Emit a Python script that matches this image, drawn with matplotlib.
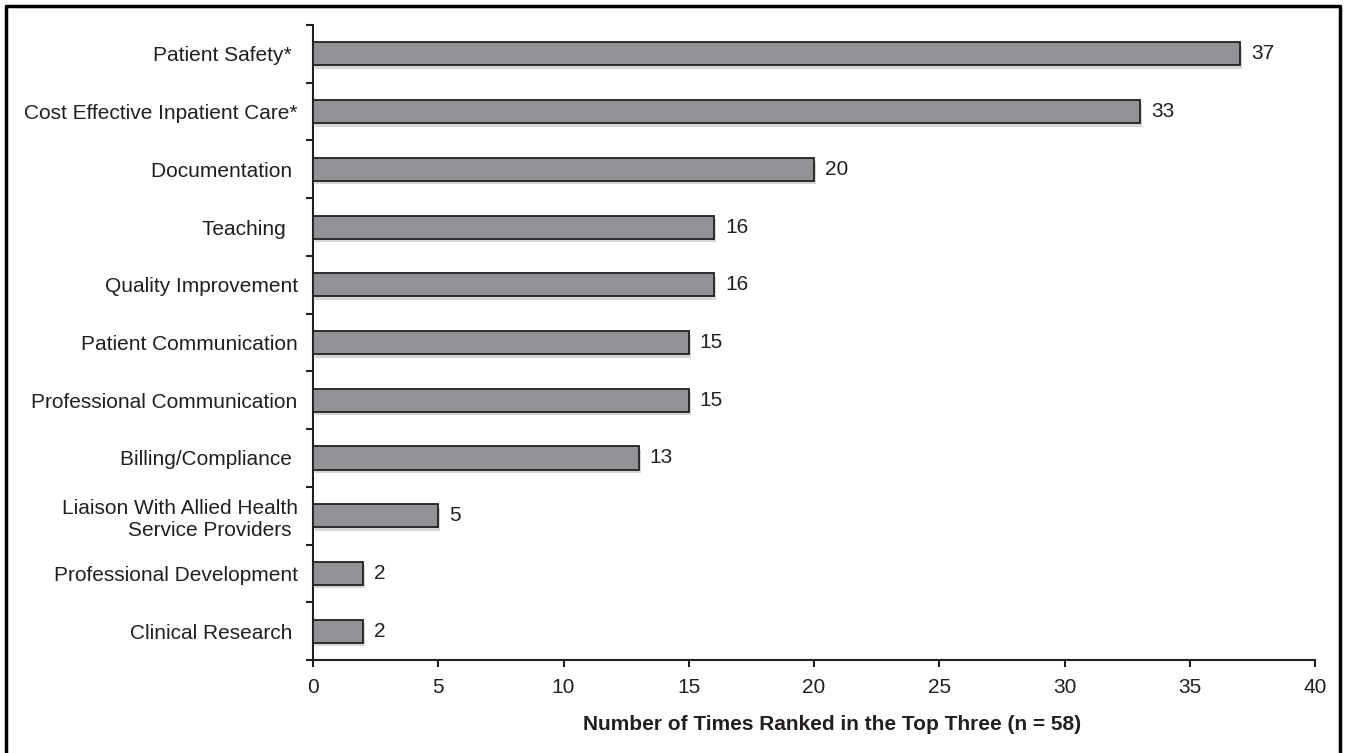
import matplotlib
matplotlib.use("Agg")
import matplotlib.pyplot as plt
import matplotlib.patheffects as pe
from matplotlib.lines import Line2D

categories = [
    "Patient Safety* ",
    "Cost Effective Inpatient Care*",
    "Documentation ",
    "Teaching  ",
    "Quality Improvement",
    "Patient Communication",
    "Professional Communication",
    "Billing/Compliance ",
    "Liaison With Allied Health\nService Providers ",
    "Professional Development",
    "Clinical Research ",
]
values = [37, 33, 20, 16, 16, 15, 15, 13, 5, 2, 2]
xticks = [0, 5, 10, 15, 20, 25, 30, 35, 40]
xlabel = "Number of Times Ranked in the Top Three (n = 58)"

plt.rcParams['font.family'] = ['Liberation Sans', 'DejaVu Sans']
dark = "#231f20"
fs = 15

fig = plt.figure(figsize=(13.45, 7.53), dpi=100)
ax = fig.add_axes([313/1345, 1-660/753, (1315-313)/1345, (660-25)/753])

ypos = list(range(len(categories)))
bars = ax.barh(ypos, values, height=0.4, color="#929296", edgecolor=dark,
               linewidth=1.3, zorder=3)
for b in bars:
    b.set_path_effects([pe.SimplePatchShadow(offset=(1.5, -2.5), shadow_rgbFace="#bbbbbb", alpha=0.6),
                        pe.Normal()])

for y, v in zip(ypos, values):
    ax.annotate(str(v), (v, y), xytext=(8, 0), textcoords="offset points",
                va="center", ha="left", fontsize=fs, color=dark)

ax.set_xlim(0, 40)
ax.set_ylim(len(categories)-0.5, -0.5)
ax.set_xticks(xticks)
ax.set_xticklabels([str(t) for t in xticks], fontsize=fs, color=dark)
ax.set_yticks(ypos)
ax.set_yticklabels(categories, fontsize=fs, color=dark)
ax.set_yticks([i - 0.5 for i in range(len(categories)+1)], minor=True)
ax.tick_params(axis='y', which='major', length=0, pad=11)
ax.tick_params(axis='y', which='minor', length=5, width=1.5, color=dark, direction='out')
ax.tick_params(axis='x', which='major', length=5, width=1.5, color=dark, direction='out', pad=8)

for s in ['top', 'right']:
    ax.spines[s].set_visible(False)
for s in ['left', 'bottom']:
    ax.spines[s].set_color(dark)
    ax.spines[s].set_linewidth(1.5)

ax.set_xlabel(xlabel, fontsize=fs, fontweight='bold', color=dark)
ax.xaxis.set_label_coords((832-313)/1002, -(725-660)/635, transform=ax.transAxes)
ax.xaxis.label.set_va('center')

# figure border (top, left, right)
fig.add_artist(Line2D([6/1345, 6/1345, 1340/1345, 1340/1345], [0, 1-6/753, 1-6/753, 0],
                      transform=fig.transFigure, color="black", linewidth=2.5))

fig.savefig("out.png", dpi=100)
